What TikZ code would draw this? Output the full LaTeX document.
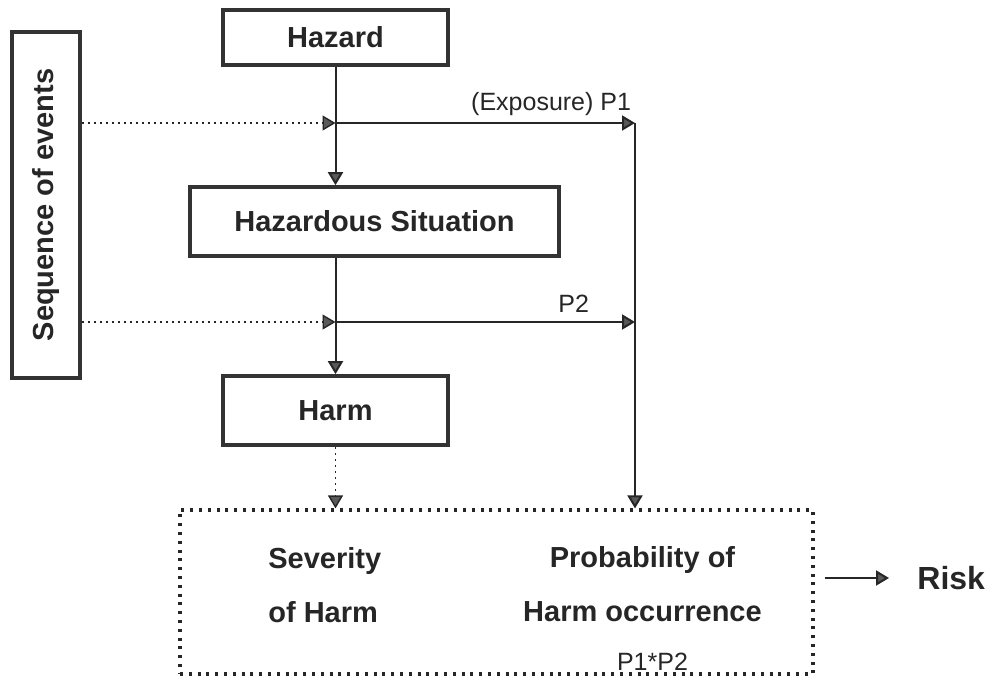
\documentclass[tikz,border=0pt]{standalone}
\usepackage{fontspec}
\setmainfont{Liberation Sans}
\usetikzlibrary{calc, positioning}
\usetikzlibrary{arrows.meta}

\begin{document}
\begin{tikzpicture}[x=0.5pt,y=-0.5pt,
  box/.style={draw=black!80,line width=1.8pt,inner sep=0pt,text=black!85,
    font=\bfseries\fontsize{14.5}{17}\selectfont},
  lbl/.style={inner sep=0pt,text=black!85,font=\fontsize{12.5}{15}\selectfont},
  big/.style={inner sep=0pt,text=black!85,align=center,
    font=\bfseries\fontsize{14.5}{27}\selectfont},
  arr/.style={line width=1pt,draw=black!85,
    -{Triangle[length=6.5pt,width=7.5pt,fill=black!65]}},
  evt/.style={arr,dotted,line width=0.7pt}]
\useasboundingbox (0,0) rectangle (991,676);
% boxes
\node[box,minimum width=112.5pt,minimum height=27.5pt] (hazard) at (335.5,37.5) {Hazard};
\node[box,minimum width=184.5pt,minimum height=34.5pt] (sit) at (374.5,221.5) {Hazardous Situation};
\node[box,minimum width=112.5pt,minimum height=34.5pt] (harm) at (335.5,410.5) {Harm};
\node[box,rotate=90,minimum width=173pt,minimum height=34pt] (seq) at (46,205) {Sequence of events};
\node[draw=black!85,line width=1.6pt,dash pattern=on 1.5pt off 2.9pt,
  minimum width=316.5pt,minimum height=82pt] (eval) at (496.5,592) {};
\node[big,align=left,anchor=north west] (sev) at (268,547) {Severity\\of Harm};
\node[big] (prob) at (642.5,584.5) {Probability of\\Harm occurrence};
\node[lbl,anchor=base] (p12) at (652.5,670) {P1*P2};
\node[inner sep=0pt,anchor=west,text=black!85,font=\bfseries\fontsize{16}{19}\selectfont] (risk) at (917,578) {Risk};
% junctions
\coordinate (j1) at (335.5,123);
\coordinate (j2) at (335.5,322);
\coordinate (p1) at (635,123);
\coordinate (p2) at (635,322);
% flow
\draw[arr] (hazard.south) -- (hazard.south |- sit.north);
\draw[arr] (hazard.south |- sit.south) -- (harm.north);
\draw[evt] (seq.south |- j1) -- (j1);
\draw[evt] (seq.south |- j2) -- (j2);
\draw[arr] (j1) -- (p1) node[lbl,anchor=base east] at (632,110) {(Exposure) P1};
\draw[arr] (j2) -- (p2) node[lbl,anchor=base east] at (590,312) {P2};
\draw[arr] (p1) -- (p1 |- eval.north);
\draw[evt] (harm.south) -- (harm.south |- eval.north);
\draw[arr] ([xshift=5pt]eval.east |- risk) -- ([xshift=-14pt]risk.west);
\end{tikzpicture}
\end{document}
